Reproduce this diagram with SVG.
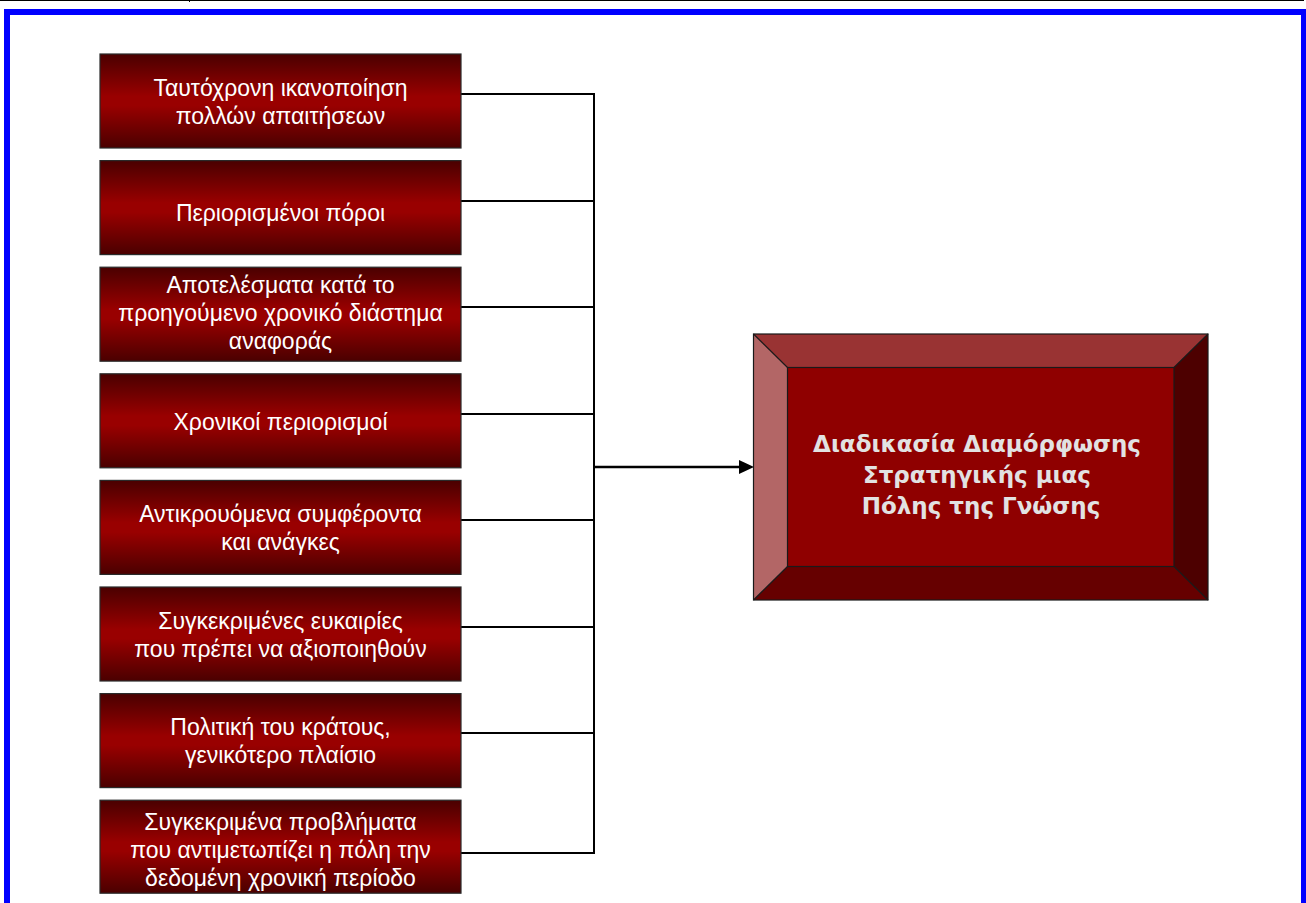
<svg xmlns="http://www.w3.org/2000/svg" width="1306" height="903" viewBox="0 0 1306 903">
<style>
.box{fill:url(#g);stroke:#2a2a2a;stroke-width:1.2}
.t{font-family:"Liberation Sans",Arial,sans-serif;font-size:23px;fill:#ffffff;text-anchor:middle}
.c{stroke:#000;stroke-width:2;fill:none}
.bt{font-family:"DejaVu Sans",Verdana,sans-serif;font-size:23px;font-weight:bold;fill:#e2e2e2;text-anchor:middle}
</style>
<defs>
<linearGradient id="g" x1="0" y1="0" x2="0" y2="1">
<stop offset="0" stop-color="#4a0000"/>
<stop offset="0.45" stop-color="#990000"/>
<stop offset="0.55" stop-color="#990000"/>
<stop offset="1" stop-color="#4a0000"/>
</linearGradient>
</defs>
<rect x="0" y="0" width="1306" height="903" fill="#fff"/>
<line x1="0" y1="0.5" x2="1304" y2="0.5" stroke="#000" stroke-width="1"/>
<line x1="189.5" y1="0" x2="189.5" y2="2" stroke="#000" stroke-width="1"/>
<rect x="7" y="12" width="1297" height="1000" fill="none" stroke="#0000ff" stroke-width="6"/>

<g id="connectors">
<polyline class="c" points="461,94 594,94 594,853 461,853"/>
<line class="c" x1="461" y1="201" x2="594" y2="201"/>
<line class="c" x1="461" y1="307" x2="594" y2="307"/>
<line class="c" x1="461" y1="414" x2="594" y2="414"/>
<line class="c" x1="461" y1="520" x2="594" y2="520"/>
<line class="c" x1="461" y1="627" x2="594" y2="627"/>
<line class="c" x1="461" y1="733" x2="594" y2="733"/>
<line x1="594" y1="467" x2="740" y2="467" stroke="#000" stroke-width="2.5"/>
<path d="M739,460 L754,467 L739,474 z" fill="#000"/>
</g>

<g id="n1"><rect class="box" x="100" y="54" width="361" height="94"/>
<text class="t" x="280.5" y="96">Ταυτόχρονη ικανοποίηση</text>
<text class="t" x="280.5" y="124">πολλών απαιτήσεων</text></g>

<g id="n2"><rect class="box" x="100" y="160.6" width="361" height="94"/>
<text class="t" x="280.5" y="221">Περιορισμένοι πόροι</text></g>

<g id="n3"><rect class="box" x="100" y="267.2" width="361" height="94"/>
<text class="t" x="280.5" y="293">Αποτελέσματα κατά το</text>
<text class="t" x="280.5" y="321">προηγούμενο χρονικό διάστημα</text>
<text class="t" x="280.5" y="349">αναφοράς</text></g>

<g id="n4"><rect class="box" x="100" y="373.8" width="361" height="94"/>
<text class="t" x="280.5" y="430">Χρονικοί περιορισμοί</text></g>

<g id="n5"><rect class="box" x="100" y="480.4" width="361" height="94"/>
<text class="t" x="280.5" y="522">Αντικρουόμενα συμφέροντα</text>
<text class="t" x="280.5" y="550">και ανάγκες</text></g>

<g id="n6"><rect class="box" x="100" y="587" width="361" height="94"/>
<text class="t" x="280.5" y="629">Συγκεκριμένες ευκαιρίες</text>
<text class="t" x="280.5" y="657">που πρέπει να αξιοποιηθούν</text></g>

<g id="n7"><rect class="box" x="100" y="693.6" width="361" height="94"/>
<text class="t" x="280.5" y="735">Πολιτική του κράτους,</text>
<text class="t" x="280.5" y="763">γενικότερο πλαίσιο</text></g>

<g id="n8"><rect class="box" x="100" y="800.2" width="361" height="93"/>
<text class="t" x="280.5" y="830">Συγκεκριμένα προβλήματα</text>
<text class="t" x="280.5" y="858">που αντιμετωπίζει η πόλη την</text>
<text class="t" x="280.5" y="886">δεδομένη χρονική περίοδο</text></g>

<g id="main">
<rect x="753.5" y="334" width="454.5" height="266" fill="#8f0000"/>
<polygon points="753.5,334 1208,334 1174,367.5 787.5,367.5" fill="#993333"/>
<polygon points="753.5,334 787.5,367.5 787.5,566.5 753.5,600" fill="#b36666"/>
<polygon points="1208,334 1208,600 1174,566.5 1174,367.5" fill="#4d0000"/>
<polygon points="753.5,600 787.5,566.5 1174,566.5 1208,600" fill="#660000"/>
<g stroke="#1a1a1a" stroke-width="1.2" fill="none">
<rect x="753.5" y="334" width="454.5" height="266"/>
<rect x="787.5" y="367.5" width="386.5" height="199"/>
<line x1="753.5" y1="334" x2="787.5" y2="367.5"/>
<line x1="1208" y1="334" x2="1174" y2="367.5"/>
<line x1="753.5" y1="600" x2="787.5" y2="566.5"/>
<line x1="1208" y1="600" x2="1174" y2="566.5"/>
</g>
<text class="bt" x="977" y="452">Διαδικασία Διαμόρφωσης</text>
<text class="bt" x="977" y="483">Στρατηγικής μιας</text>
<text class="bt" x="981" y="514">Πόλης της Γνώσης</text>
</g>
</svg>
